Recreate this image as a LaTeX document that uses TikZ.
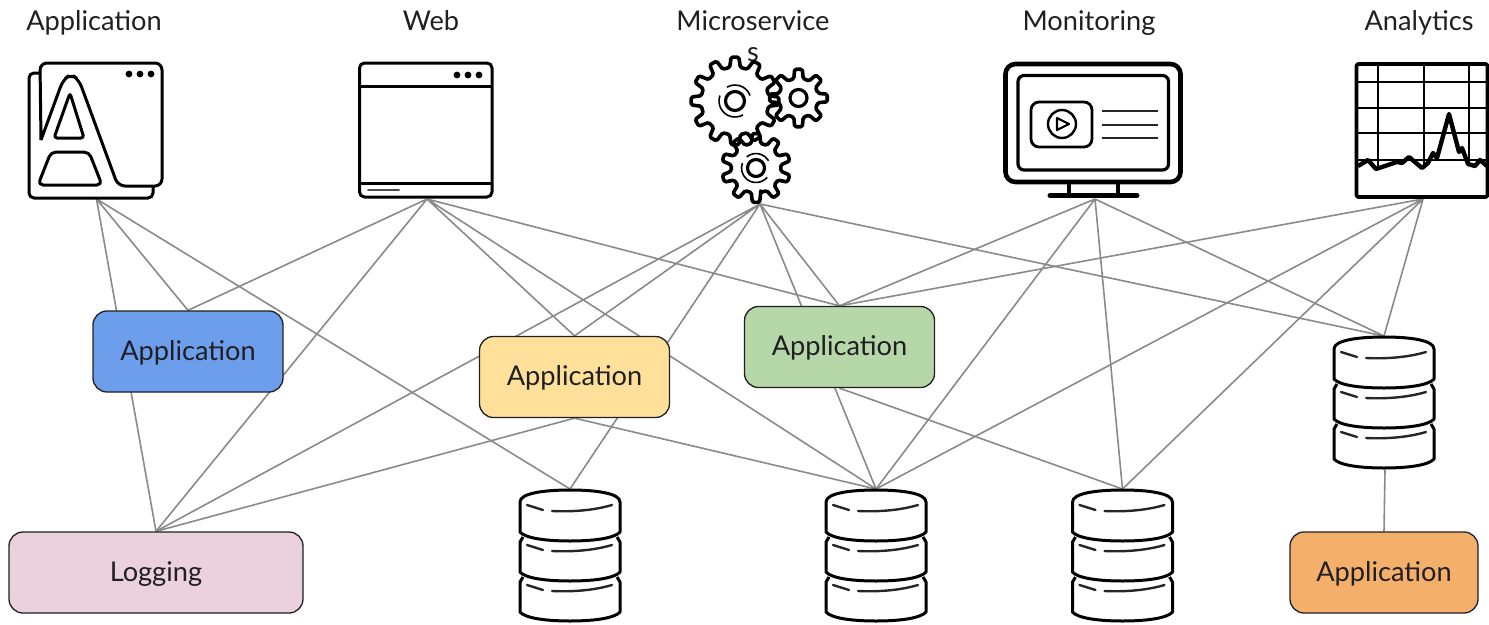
\documentclass[tikz,border=0pt]{standalone}
\usepackage{fontspec}
\setmainfont{Lato}
\usetikzlibrary{backgrounds}

\definecolor{cajaAzul}{HTML}{6D9EEB}
\definecolor{cajaAmarilla}{HTML}{FFE09A}
\definecolor{cajaVerde}{HTML}{B6D7A8}
\definecolor{cajaRosa}{HTML}{EAD1DC}
\definecolor{cajaNaranja}{HTML}{F4AF6B}
\definecolor{conectorGris}{HTML}{8A8A8A}
\definecolor{textoOscuro}{HTML}{1F1F24}

\tikzset{
    caja/.style={draw=textoOscuro, line width=1.3pt, rounded corners=14pt, inner sep=0pt,
        minimum width=190pt, minimum height=81pt, text=textoOscuro, text height=19.5pt, text depth=2pt,
        font=\fontsize{27.2}{31}\selectfont},
    titulo/.style={inner sep=0pt, text=textoOscuro, align=center,
        font=\fontsize{27.2}{31}\selectfont},
    conector/.style={draw=conectorGris, line width=1.6pt},
    icono/.style={draw=black, line width=3pt, rounded corners=5pt, line join=round},
    trazo/.style={draw=black!85, line width=2.4pt, line cap=round},
    pics/pila/.style={code={
        % Tres discos apilados; (0,0) es lo alto del disco superior.
        \coordinate (-top) at (0,-1);
        \draw[icono, rounded corners=0pt] (-50,12) .. controls (-50,3) and (-25,0) .. (0,0)
            .. controls (25,0) and (50,3) .. (50,12) -- (50,42)
            .. controls (45,48) and (25,51) .. (0,51)
            .. controls (-25,51) and (-45,48) .. (-50,42) -- cycle;
        \foreach \d in {0,40}{
            \draw[icono, rounded corners=0pt] (-47,47+\d) -- (-50,52+\d) -- (-50,82+\d)
                .. controls (-45,88+\d) and (-25,91+\d) .. (0,91+\d)
                .. controls (25,91+\d) and (45,88+\d) .. (50,82+\d)
                -- (50,52+\d) -- (47,47+\d);
        }
        \foreach \d in {0,40,80}{
            \draw[trazo] (-43,15+\d) -- (-27,20+\d);
            \draw[trazo] (-18,21+\d) .. controls (5,22+\d) and (25,20+\d) .. (42,15+\d);
        }
    }},
}

% Rueda dentada: x, y, radio exterior, radio de raíz, dientes, giro.
\newcommand{\ruedaDentada}[6]{
    \pgfmathsetmacro{\paso}{360/#5}
    \draw[icono, line width=3.6pt, rounded corners=1.5pt, shift={(#1,#2)}] ({#6-0.3*\paso}:#4)
        \foreach \i in {1,...,#5}{
            -- ({#6+(\i-1)*\paso-0.17*\paso}:#3) -- ({#6+(\i-1)*\paso+0.17*\paso}:#3)
            -- ({#6+(\i-1)*\paso+0.3*\paso}:#4) -- ({#6+(\i-1)*\paso+0.7*\paso}:#4)
        } -- cycle;
}

\begin{document}
\begin{tikzpicture}[x=1pt, y=-1pt]
        \useasboundingbox (0,0) rectangle (1489,624);

        % Títulos de las cinco columnas.
        \node[titulo, anchor=base] (tituloApp) at (94,30) {Application};
        \node[titulo, anchor=base] (tituloWeb) at (431,30) {Web};
        \node[titulo, anchor=north] (tituloMicro) at (753,10) {Microservice\\s};
        \node[titulo, anchor=base] (tituloMonitor) at (1089,30) {Monitoring};
        \node[titulo, anchor=base] (tituloAnalytics) at (1419,30) {Analytics};

        % Puntos de salida bajo cada icono.
        \coordinate (iconoApp) at (96.5,199);
        \coordinate (iconoWeb) at (427,199);
        \coordinate (iconoMicro) at (760,204);
        \coordinate (iconoMonitor) at (1095,199);
        \coordinate (iconoAnalytics) at (1423,199);

        % Las cajas de aplicación y de registro.
        \node[caja, fill=cajaAzul] (azul) at (188,351.5) {Application};
        \node[caja, fill=cajaAmarilla] (amarilla) at (574.5,377) {Application};
        \node[caja, fill=cajaVerde] (verde) at (839.5,347) {Application};
        \node[caja, fill=cajaRosa, minimum width=294pt] (logging) at (156,572.5) {Logging};
        \node[caja, fill=cajaNaranja, minimum width=188pt] (naranja) at (1384,572.5) {Application};

        % Las cuatro pilas de discos.
        \pic (pilaA) at (570,490) {pila};
        \pic (pilaB) at (876,490) {pila};
        \pic (pilaC) at (1122.5,490) {pila};
        \pic (pilaD) at (1384,337) {pila};
        \coordinate (pilaDbase) at (1385,470);

        % Conectores, por debajo de las cajas.
        \begin{scope}[on background layer]
            \draw[conector] (iconoApp) -- (logging.north) (iconoApp) -- (azul.north) (iconoApp) -- (pilaA-top);
            \draw[conector] (iconoWeb) -- (azul.north) (iconoWeb) -- (logging.north) (iconoWeb) -- (amarilla.north)
                (iconoWeb) -- (pilaB-top) (iconoWeb) -- (verde.north);
            \draw[conector] (iconoMicro) -- (logging.north) (iconoMicro) -- (amarilla.north) (iconoMicro) -- (pilaA-top)
                (iconoMicro) -- (pilaB-top) (iconoMicro) -- (verde.north) (iconoMicro) -- (pilaD-top);
            \draw[conector] (iconoMonitor) -- (verde.north) (iconoMonitor) -- (pilaB-top)
                (iconoMonitor) -- (pilaC-top) (iconoMonitor) -- (pilaD-top);
            \draw[conector] (iconoAnalytics) -- (verde.north) (iconoAnalytics) -- (pilaB-top)
                (iconoAnalytics) -- (pilaC-top) (iconoAnalytics) -- (pilaD-top);
            \draw[conector] (amarilla.south) -- (logging.north) (amarilla.south) -- (pilaB-top);
            \draw[conector] (verde.south) -- (pilaC-top);
            \draw[conector] (pilaDbase) -- (naranja.north);
        \end{scope}

        % Icono de la aplicación: dos ventanas y la letra.
        \draw[icono] (40,73) -- (29,73) -- (29,198) -- (153,198) -- (153,187);
        \draw[icono, rounded corners=7pt] (41,140) -- (40,63) -- (162,63) -- (162,186) -- (118,186) -- (79,80) -- (71,74)
            -- (63,80) -- (41,140);
        \draw[icono, rounded corners=3pt] (70,93) -- (54,138) -- (84,138) -- cycle;
        \draw[icono, rounded corners=5pt] (51,152) -- (89,152) -- (102,185) -- (38,185) -- cycle;
        \foreach \x in {129,140,151}
            \fill (\x,74) circle[radius=3.4];

        % Icono de la web.
        \draw[icono] (359.5,63) rectangle (492,197);
        \draw[icono, rounded corners=0pt] (360,86) -- (491,86) (360,183) -- (491,183);
        \draw[trazo, draw=black!70, line width=2pt] (368,189.5) -- (399,189.5);
        \foreach \x in {457,468,479}
            \fill (\x,75) circle[radius=3.4];

        % Icono de los engranajes.
        \ruedaDentada{735}{101}{44}{34}{12}{0}
        \ruedaDentada{798.5}{98}{29}{20}{8}{0}
        \ruedaDentada{756}{168}{34.5}{25}{10}{90}
        \draw[line width=3.2pt] (735,101) circle[radius=9.5] (798.5,98) circle[radius=8.5] (756,168) circle[radius=8.5];
        \draw[line width=1.6pt] (735,101) ++(60:16) arc[start angle=60, end angle=200, radius=16];
        \draw[line width=1.6pt] (735,101) ++(240:16) arc[start angle=240, end angle=340, radius=16];
        \draw[line width=1.6pt] (756,168) ++(40:14.5) arc[start angle=40, end angle=200, radius=14.5];
        \draw[line width=1.6pt] (756,168) ++(230:14.5) arc[start angle=230, end angle=330, radius=14.5];

        % Icono del monitor.
        \draw[icono, line width=4.6pt, rounded corners=10pt] (1005.5,64) rectangle (1180.5,182);
        \draw[icono, line width=3.2pt, rounded corners=6pt] (1018,75.5) rectangle (1168.5,170);
        \draw[icono, line width=2.8pt, rounded corners=8pt] (1031,102) rectangle (1092,147);
        \draw[line width=2.4pt] (1062,124) circle[radius=14];
        \draw[line width=2.2pt, line join=round] (1057,118) -- (1069,124) -- (1057,130) -- cycle;
        \foreach \y in {111,125,138}
            \draw[trazo, line cap=butt] (1102,\y) -- (1158,\y);
        \draw[line width=4pt] (1069,182) -- (1069,195) (1118,182) -- (1118,195);
        \draw[line width=5pt, line cap=round] (1050,195.5) -- (1137,195.5);

        % Icono de la gráfica.
        \foreach \x in {1378,1424,1469}
            \draw[line width=2.6pt] (\x,63) -- (\x,166);
        \foreach \y in {82,108,133,160}
            \draw[line width=2.4pt] (1356,\y) -- (1487,\y);
        \draw[line width=4.4pt, line join=round] (1358,166) -- (1368,160) -- (1376,169) -- (1397,162) -- (1402,163) -- (1409,157)
            -- (1422,168) -- (1428,163) -- (1433,153) -- (1437,158) -- (1449,114) -- (1459,152) -- (1462,148) -- (1468,164)
            -- (1475,166) -- (1480,160) -- (1487,166);
        \draw[icono, line width=3.6pt, rounded corners=1.5pt] (1356.5,64) rectangle (1487.5,197);
    \end{tikzpicture}
\end{document}
